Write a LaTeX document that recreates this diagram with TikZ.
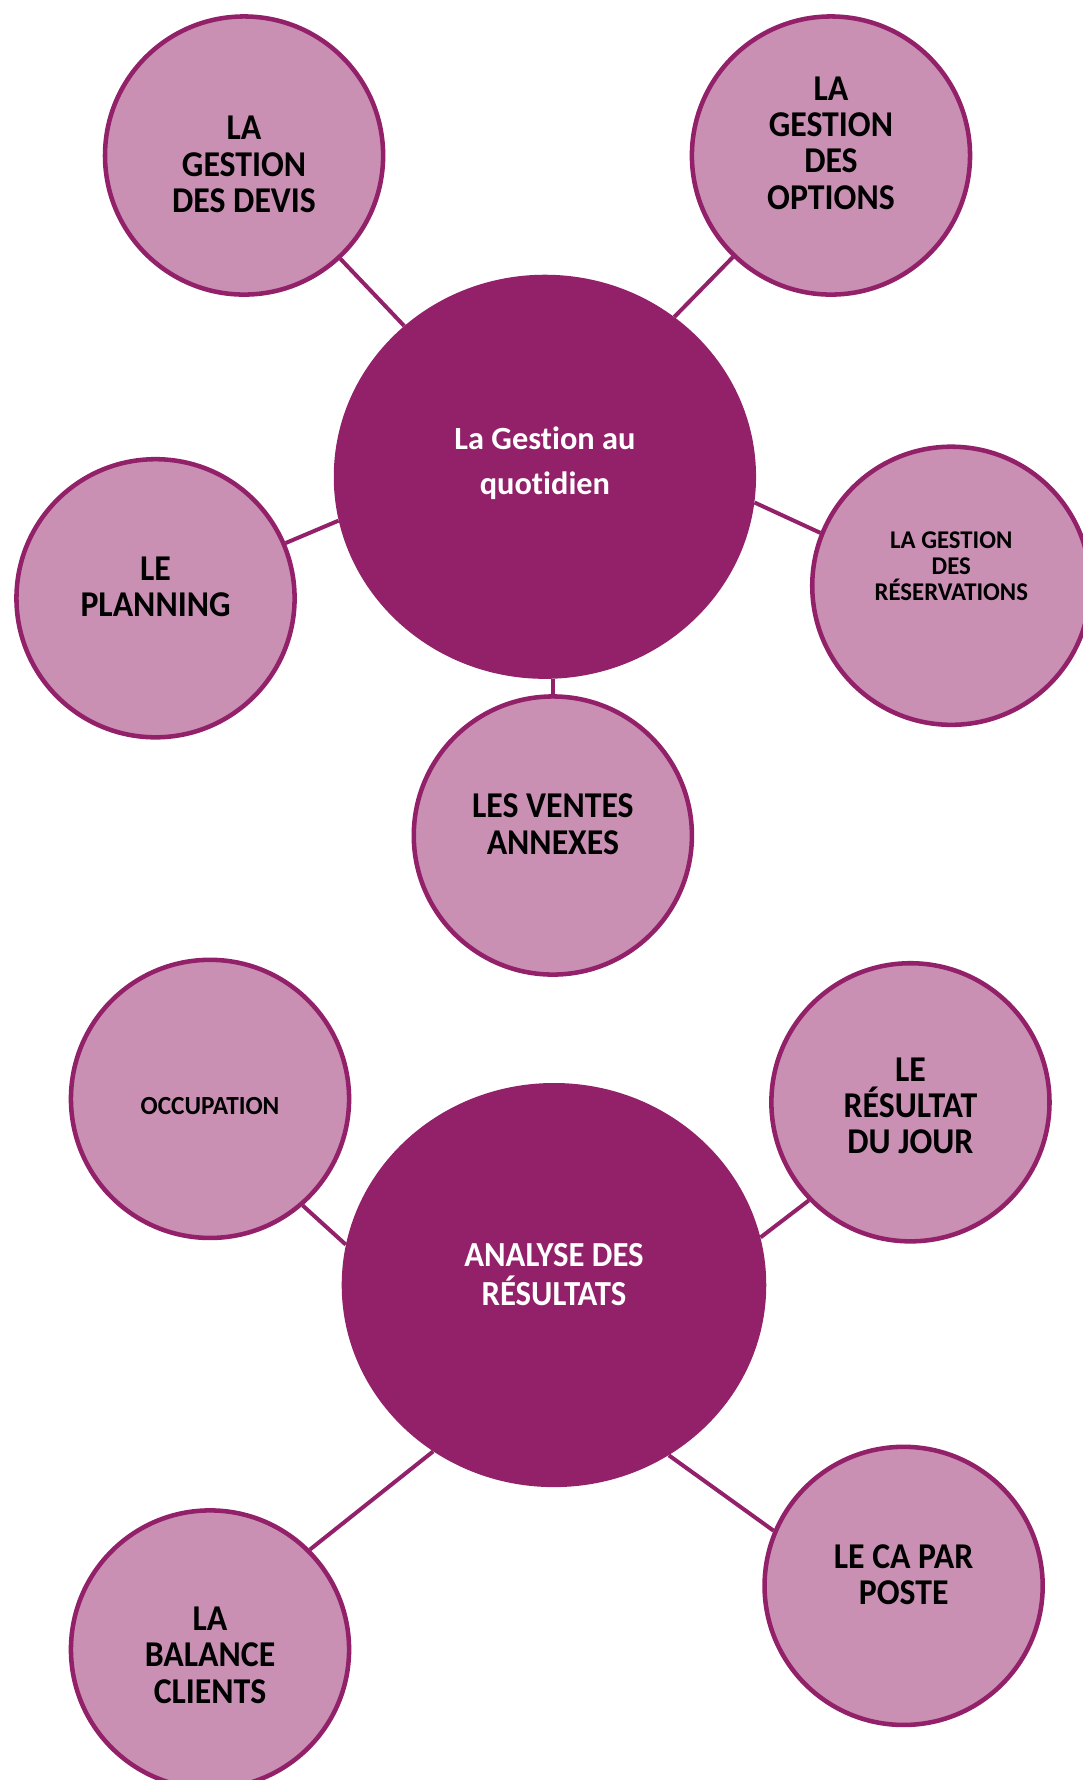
\documentclass[tikz,border=0pt]{standalone}
\usepackage{fontspec}
\setmainfont{Carlito}[Ligatures=NoCommon]
\newfontfamily\condfont{Carlito}[FakeStretch=0.93,Ligatures=NoCommon]
\newfontfamily\condfontb{Carlito}[FakeStretch=0.97,Ligatures=NoCommon]
\usetikzlibrary{shapes.geometric}
\definecolor{darkplum}{HTML}{93216A}
\definecolor{lightplum}{HTML}{C990B3}
\tikzset{
  sub/.style={circle,draw=darkplum,fill=lightplum,line width=4pt,minimum size=245pt,inner sep=0pt},
  hub/.style={ellipse,fill=darkplum,inner sep=0pt,minimum width=372pt,minimum height=356pt},
  conn/.style={draw=darkplum,line width=3.5pt},
  lbl/.style={align=center,text=black,font=\condfont\bfseries\fontsize{32}{32}\selectfont},
  lblsmall/.style={align=center,text=black,font=\condfontb\bfseries\fontsize{22.5}{23}\selectfont},
  lblocc/.style={align=center,text=black,font=\condfontb\bfseries\fontsize{23}{23}\selectfont},
  hubtxt/.style={align=center,text=white,font=\bfseries\fontsize{28.5}{40}\selectfont},
  hubtxtc/.style={align=center,text=white,font=\condfont\bfseries\fontsize{31}{34}\selectfont}
}
\begin{document}
\begin{tikzpicture}[x=1pt,y=-1pt]
\useasboundingbox[fill=white] (0,0) rectangle (954,1568);
% hubs
\node[hub] (c1) at (480,420) {};
\node[hub,minimum width=374pt] (c2) at (488,1132) {};
% satellites
\node[sub] (devis) at (215,137) {};
\node[sub] (opt) at (732,137) {};
\node[sub] (plan) at (137,527) {};
\node[sub] (resa) at (838,516) {};
\node[sub] (vent) at (487,736) {};
\node[sub] (occ) at (185,968) {};
\node[sub] (res) at (802,971) {};
\node[sub] (bal) at (185,1453) {};
\node[sub] (ca) at (796,1397) {};
% connectors
\draw[conn] (c1.133) -- (devis.-47);
\draw[conn] (c1.51) -- (opt.226);
\draw[conn] (c1.192) -- (plan.23);
\draw[conn] (c1.-7) -- (resa.158);
\draw[conn] (vent.north) -- (vent.north |- c1.south);
\draw[conn] (c2.169.5) -- (occ.-49);
\draw[conn] (c2.13.4) -- (res.224);
\draw[conn] (c2.234) -- (bal.45);
\draw[conn] (c2.-56.7) -- (ca.157);
% texts
\node[hubtxt] (t1) at (480,408) {La Gestion au\\quotidien};
\node[hubtxtc] (t2) at (488,1123) {ANALYSE DES\\RÉSULTATS};
\node[lbl] (tdevis) at (215,145) {LA\\GESTION\\DES DEVIS};
\node[lbl] (topt) at (732,126) {LA\\GESTION\\DES\\OPTIONS};
\node[lbl] (tplan) at (137,517) {LE\\PLANNING};
\node[lblsmall] (tresa) at (838,499) {LA GESTION\\DES\\RÉSERVATIONS};
\node[lbl] (tvent) at (487,726) {LES VENTES\\ANNEXES};
\node[lblocc] (tocc) at (185,974) {OCCUPATION};
\node[lbl] (tres) at (802,974) {LE\\RÉSULTAT\\DU JOUR};
\node[lbl] (tbal) at (185,1458) {LA\\BALANCE\\CLIENTS};
\node[lbl] (tca) at (796,1387) {LE CA PAR\\POSTE};
\end{tikzpicture}
\end{document}
